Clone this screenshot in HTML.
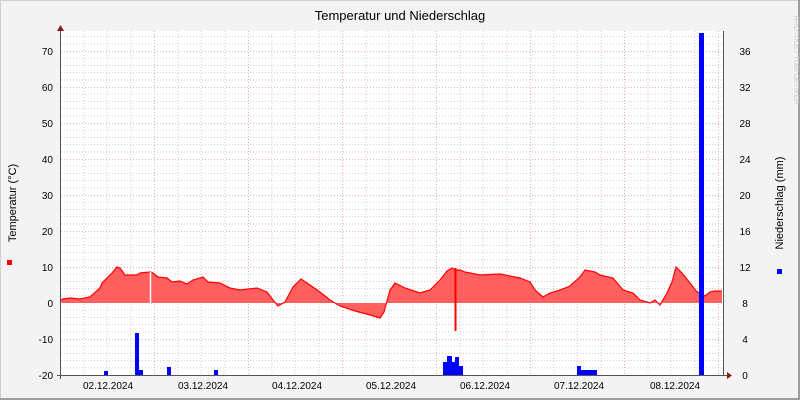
<!DOCTYPE html><html><head><style>body{margin:0}svg{display:block}</style></head><body>
<svg width="800" height="400" xmlns="http://www.w3.org/2000/svg" font-family="Liberation Sans, DejaVu Sans, sans-serif">
<rect width="800" height="400" fill="#f3f3f3"/>
<rect x="0.5" y="0.5" width="799" height="399" fill="none" stroke="#cfcfcf"/>
<line x1="0" y1="399" x2="800" y2="399" stroke="#9e9e9e" stroke-width="2"/>
<line x1="799" y1="0" x2="799" y2="400" stroke="#9e9e9e" stroke-width="2"/>
<rect x="61" y="31" width="662" height="344" fill="#fff"/>
<g stroke="#cfcfcf" stroke-dasharray="1,2">
<line x1="84" y1="31" x2="84" y2="375"/><line x1="107" y1="31" x2="107" y2="375"/><line x1="131" y1="31" x2="131" y2="375"/>
<line x1="178" y1="31" x2="178" y2="375"/><line x1="201" y1="31" x2="201" y2="375"/><line x1="225" y1="31" x2="225" y2="375"/>
<line x1="272" y1="31" x2="272" y2="375"/><line x1="295" y1="31" x2="295" y2="375"/><line x1="319" y1="31" x2="319" y2="375"/>
<line x1="366" y1="31" x2="366" y2="375"/><line x1="389" y1="31" x2="389" y2="375"/><line x1="413" y1="31" x2="413" y2="375"/>
<line x1="460" y1="31" x2="460" y2="375"/><line x1="483" y1="31" x2="483" y2="375"/><line x1="507" y1="31" x2="507" y2="375"/>
<line x1="554" y1="31" x2="554" y2="375"/><line x1="577" y1="31" x2="577" y2="375"/><line x1="601" y1="31" x2="601" y2="375"/>
<line x1="648" y1="31" x2="648" y2="375"/><line x1="671" y1="31" x2="671" y2="375"/><line x1="695" y1="31" x2="695" y2="375"/>
</g>
<g stroke="#e0b0b0" stroke-dasharray="1,2">
<line x1="154.5" y1="31" x2="154.5" y2="375"/><line x1="248.5" y1="31" x2="248.5" y2="375"/><line x1="342.5" y1="31" x2="342.5" y2="375"/><line x1="436.5" y1="31" x2="436.5" y2="375"/><line x1="530.5" y1="31" x2="530.5" y2="375"/><line x1="624.5" y1="31" x2="624.5" y2="375"/><line x1="718.5" y1="31" x2="718.5" y2="375"/>
</g>
<g stroke="#cfcfcf" stroke-dasharray="1,2">
<line x1="61" y1="36.5" x2="723" y2="36.5"/><line x1="61" y1="44" x2="723" y2="44"/><line x1="61" y1="58" x2="723" y2="58"/><line x1="61" y1="65.5" x2="723" y2="65.5"/><line x1="61" y1="72.5" x2="723" y2="72.5"/><line x1="61" y1="80" x2="723" y2="80"/>
<line x1="61" y1="94" x2="723" y2="94"/><line x1="61" y1="101.5" x2="723" y2="101.5"/><line x1="61" y1="108.5" x2="723" y2="108.5"/><line x1="61" y1="116" x2="723" y2="116"/>
<line x1="61" y1="130" x2="723" y2="130"/><line x1="61" y1="137.5" x2="723" y2="137.5"/><line x1="61" y1="144.5" x2="723" y2="144.5"/><line x1="61" y1="152" x2="723" y2="152"/>
<line x1="61" y1="166" x2="723" y2="166"/><line x1="61" y1="173.5" x2="723" y2="173.5"/><line x1="61" y1="180.5" x2="723" y2="180.5"/><line x1="61" y1="188" x2="723" y2="188"/>
<line x1="61" y1="202" x2="723" y2="202"/><line x1="61" y1="209.5" x2="723" y2="209.5"/><line x1="61" y1="216.5" x2="723" y2="216.5"/><line x1="61" y1="224" x2="723" y2="224"/>
<line x1="61" y1="238" x2="723" y2="238"/><line x1="61" y1="245.5" x2="723" y2="245.5"/><line x1="61" y1="252.5" x2="723" y2="252.5"/><line x1="61" y1="260" x2="723" y2="260"/>
<line x1="61" y1="274" x2="723" y2="274"/><line x1="61" y1="281.5" x2="723" y2="281.5"/><line x1="61" y1="288.5" x2="723" y2="288.5"/><line x1="61" y1="296" x2="723" y2="296"/>
<line x1="61" y1="310" x2="723" y2="310"/><line x1="61" y1="317.5" x2="723" y2="317.5"/><line x1="61" y1="324.5" x2="723" y2="324.5"/><line x1="61" y1="332" x2="723" y2="332"/>
<line x1="61" y1="346" x2="723" y2="346"/><line x1="61" y1="353.5" x2="723" y2="353.5"/><line x1="61" y1="360.5" x2="723" y2="360.5"/><line x1="61" y1="368" x2="723" y2="368"/>
</g>
<g stroke="#e0b0b0" stroke-dasharray="1,2">
<line x1="61" y1="51.5" x2="723" y2="51.5"/><line x1="61" y1="87.5" x2="723" y2="87.5"/><line x1="61" y1="123.5" x2="723" y2="123.5"/><line x1="61" y1="159.5" x2="723" y2="159.5"/><line x1="61" y1="195.5" x2="723" y2="195.5"/><line x1="61" y1="231.5" x2="723" y2="231.5"/><line x1="61" y1="267.5" x2="723" y2="267.5"/><line x1="61" y1="339.5" x2="723" y2="339.5"/>
</g>
<polygon fill="#ff5f5f" stroke="none" points="61,303 61,300 63,299 70,298 80,299 90,297 100,288 102,283 112,273 117,267 120,268 125,275 137,275 140,273 150,272 153,273 158,277 167,278 172,282 180,281 187,284 193,280 203,277 208,282 220,283 230,288 240,290 257,288 267,292 273,300 278,306 285,302 293,287 301,279 310,285 320,292 330,300 340,306 355,311 370,315 380,318 384,312 390,290 395,283 405,288 420,293 430,290 440,280 447,271 452,268 455,270 460,270 465,272 480,275 500,274 520,278 530,282 535,290 543,297 550,293 560,290 570,286 580,277 585,270 595,272 600,275 613,278 623,290 633,293 640,300 650,303 655,300 660,305 667,293 672,282 676,267 682,273 690,283 697,292 700,293 705,296 710,292 715,291 722,291 722,303"/>
<polyline fill="none" stroke="#ff0000" stroke-width="1.2" points="61,300 63,299 70,298 80,299 90,297 100,288 102,283 112,273 117,267 120,268 125,275 137,275 140,273 150,272 153,273 158,277 167,278 172,282 180,281 187,284 193,280 203,277 208,282 220,283 230,288 240,290 257,288 267,292 273,300 278,306 285,302 293,287 301,279 310,285 320,292 330,300 340,306 355,311 370,315 380,318 384,312 390,290 395,283 405,288 420,293 430,290 440,280 447,271 452,268 455,270 460,270 465,272 480,275 500,274 520,278 530,282 535,290 543,297 550,293 560,290 570,286 580,277 585,270 595,272 600,275 613,278 623,290 633,293 640,300 650,303 655,300 660,305 667,293 672,282 676,267 682,273 690,283 697,292 700,293 705,296 710,292 715,291 722,291"/>
<line x1="150.5" y1="272" x2="150.5" y2="303" stroke="#fff" stroke-width="1.5"/>
<line x1="455.5" y1="268" x2="455.5" y2="331" stroke="#ff0000" stroke-width="2"/>
<g fill="#0000ff">
<rect x="104" y="371" width="4" height="4"/><rect x="135" y="333" width="4" height="42"/><rect x="139" y="370" width="4" height="5"/>
<rect x="167" y="367" width="4" height="8"/><rect x="214" y="370" width="4" height="5"/>
<rect x="443" y="362" width="4" height="13"/><rect x="447" y="356" width="5" height="19"/><rect x="452" y="362" width="3" height="13"/><rect x="455" y="357" width="4" height="18"/><rect x="459" y="366" width="4" height="9"/>
<rect x="577" y="366" width="4" height="9"/><rect x="581" y="370" width="16" height="5"/>
<rect x="699" y="33" width="5" height="342"/>
</g>
<g stroke="#555" stroke-width="1">
<line x1="60.5" y1="28" x2="60.5" y2="379"/><line x1="57" y1="375.5" x2="727" y2="375.5"/><line x1="723.5" y1="31" x2="723.5" y2="375"/>
</g>
<polygon points="57,31 64,31 60.5,25" fill="#8b1a1a"/>
<polygon points="727,372 727,379 732,375.5" fill="#8b1a1a"/>
<text x="400" y="20" font-size="13" text-anchor="middle" fill="#000">Temperatur und Niederschlag</text>
<g font-size="10" text-anchor="end" fill="#000">
<text x="53" y="55">70</text><text x="53" y="91">60</text><text x="53" y="127">50</text><text x="53" y="163">40</text><text x="53" y="199">30</text><text x="53" y="235">20</text><text x="53" y="271">10</text><text x="53" y="307">0</text><text x="53" y="343">-10</text><text x="53" y="379">-20</text>
</g>
<g font-size="10" text-anchor="middle" fill="#000">
<text x="745" y="55">36</text><text x="745" y="91">32</text><text x="745" y="127">28</text><text x="745" y="163">24</text><text x="745" y="199">20</text><text x="745" y="235">16</text><text x="745" y="271">12</text><text x="745" y="307">8</text><text x="745" y="343">4</text><text x="745" y="379">0</text>
<text x="108" y="389">02.12.2024</text><text x="203" y="389">03.12.2024</text><text x="297" y="389">04.12.2024</text><text x="391" y="389">05.12.2024</text><text x="485" y="389">06.12.2024</text><text x="579" y="389">07.12.2024</text><text x="675" y="389">08.12.2024</text>
</g>
<text transform="translate(16,203) rotate(-90)" font-size="11" text-anchor="middle">Temperatur (°C)</text>
<text transform="translate(783,203) rotate(-90)" font-size="11" text-anchor="middle">Niederschlag (mm)</text>
<text transform="translate(794,60) rotate(90)" font-size="7" fill="#cccccc" text-anchor="middle">RRDTOOL / TOBI OETIKER</text>
<rect x="7" y="260" width="5" height="5" fill="#ff0000"/>
<rect x="777" y="269" width="5" height="5" fill="#0000ff"/>
</svg>
</body></html>
